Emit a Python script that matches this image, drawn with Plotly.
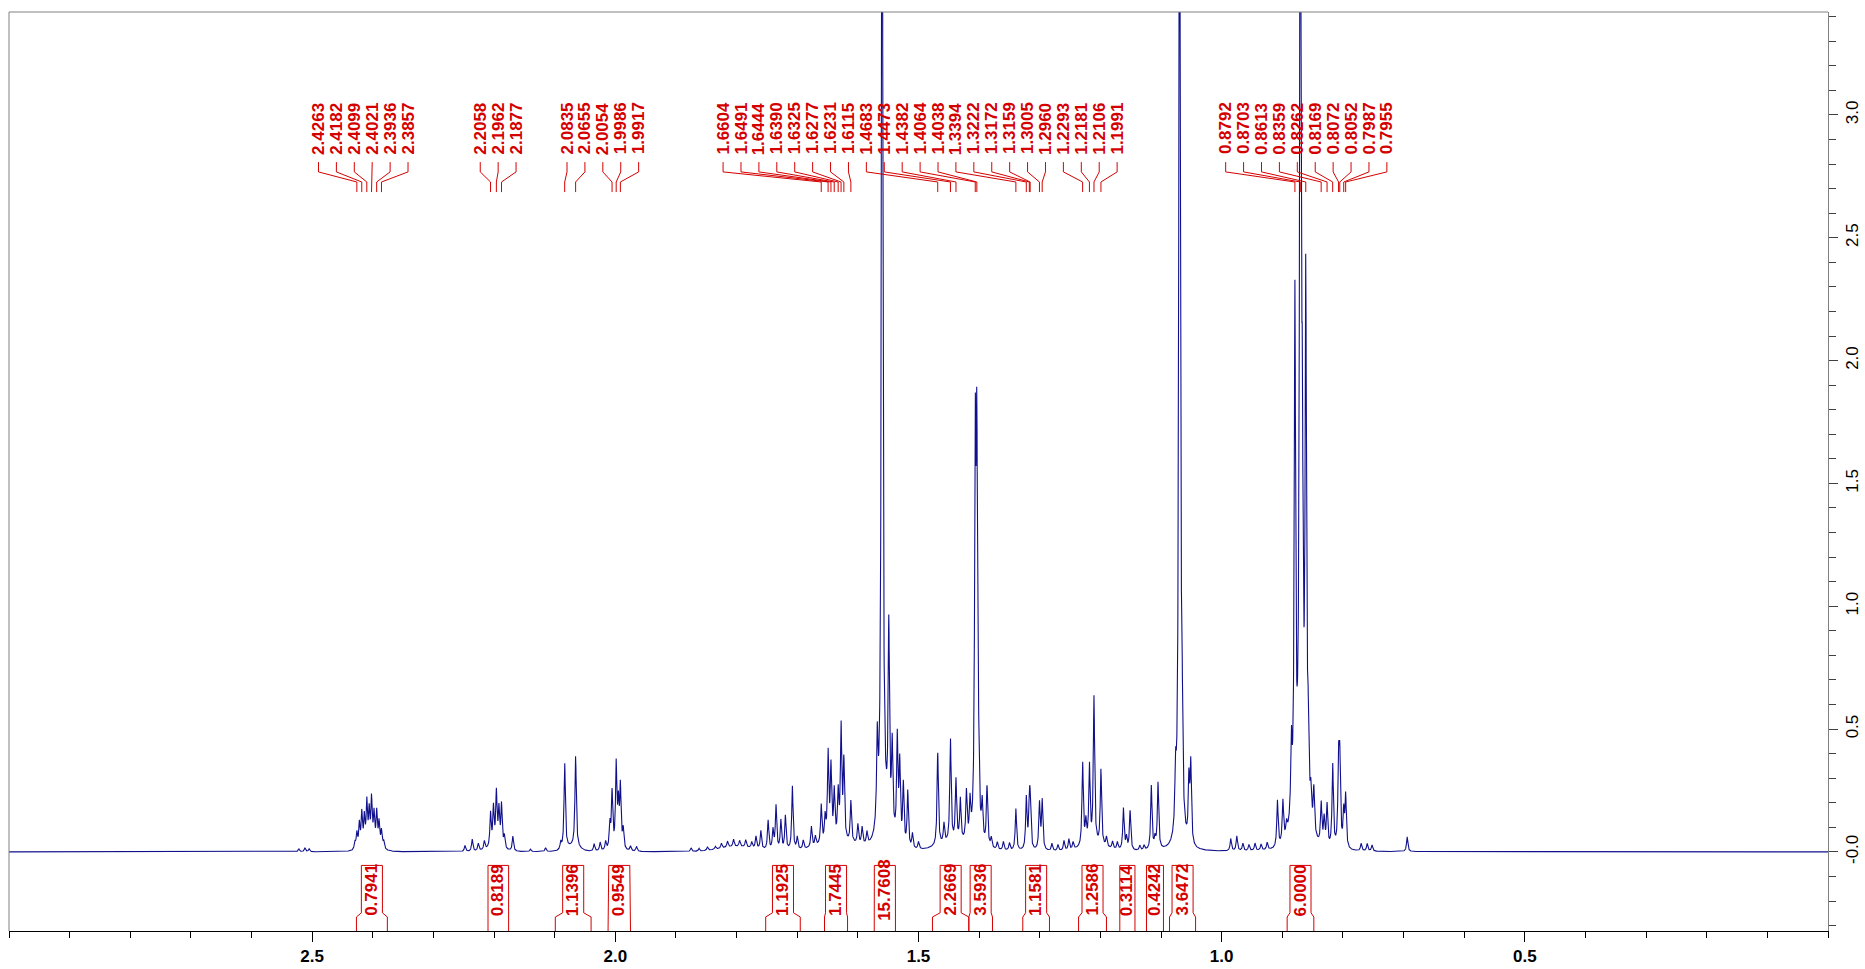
import numpy as np
import plotly.graph_objects as go

# ---------------- data ----------------
# spectrum lines: chemical shift (ppm) and height (rel)
peak_ppm = [
    2.522, 2.512, 2.505,
    2.4295, 2.4263, 2.4222, 2.4182, 2.4140, 2.4099, 2.4060, 2.4021, 2.3980, 2.3936, 2.3897, 2.3857, 2.3820,
    2.248, 2.236, 2.226, 2.216, 2.2058, 2.2010, 2.1962, 2.1920, 2.1877, 2.1830, 2.169,
    2.140, 2.115,
    2.090, 2.0835, 2.0655, 2.035, 2.025, 2.016,
    2.0090, 2.0054, 1.9986, 1.9950, 1.9917, 1.9870, 1.975, 1.965,
    1.875, 1.862, 1.848, 1.835,
    1.825, 1.815, 1.805, 1.795, 1.785, 1.775,
    1.768, 1.760, 1.748, 1.740, 1.735, 1.727, 1.7195, 1.708, 1.700, 1.690, 1.6766, 1.670,
    1.6604, 1.6540, 1.6491, 1.6444, 1.6390, 1.6325, 1.6277, 1.6231, 1.6115, 1.600, 1.593, 1.585,
    1.568, 1.5600, 1.5490, 1.5434, 1.5350, 1.5310, 1.5250, 1.5177, 1.510, 1.500,
    1.4683, 1.4580, 1.4473, 1.4382, 1.4310, 1.4210, 1.4150,
    1.4064, 1.4038, 1.4010, 1.3950, 1.3870, 1.3800,
    1.370, 1.360, 1.350,
    1.3394, 1.3222, 1.3172, 1.3159, 1.3005, 1.2960,
    1.280, 1.270, 1.260, 1.252, 1.245,
    1.2293, 1.2240, 1.2181, 1.2106, 1.1991,
    1.190, 1.180, 1.172,
    1.162, 1.157, 1.151, 1.135, 1.128,
    1.116, 1.110, 1.105,
    1.076, 1.0695, 1.0655, 1.054, 1.051,
    0.985, 0.975, 0.965, 0.955, 0.945, 0.935, 0.925,
    0.908, 0.899, 0.893,
    0.8850, 0.8792, 0.8703, 0.8670, 0.8613, 0.8575, 0.8530, 0.8480,
    0.8359, 0.8310, 0.8262, 0.8169, 0.8072, 0.8052, 0.7987, 0.7955,
    0.770, 0.760, 0.752, 0.694,
]
peak_height = [
    0.012, 0.016, 0.012,
    0.03, 0.065, 0.10, 0.14, 0.12, 0.18, 0.14, 0.19, 0.13, 0.14, 0.10, 0.07, 0.03,
    0.025, 0.05, 0.03, 0.035, 0.14, 0.16, 0.22, 0.15, 0.175, 0.05, 0.06,
    0.01, 0.015,
    0.03, 0.35, 0.37, 0.03, 0.035, 0.035,
    0.10, 0.23, 0.34, 0.17, 0.25, 0.08, 0.02, 0.02,
    0.015, 0.012, 0.015, 0.012,
    0.02, 0.025, 0.03, 0.025, 0.03, 0.025,
    0.05, 0.075, 0.12, 0.08, 0.18, 0.12, 0.14, 0.26, 0.05, 0.035, 0.085, 0.04,
    0.16, 0.10, 0.36, 0.30, 0.20, 0.19, 0.46, 0.32, 0.17, 0.08, 0.07, 0.05,
    0.35, 5.0, 0.80, 0.35, 0.42, 0.32, 0.25, 0.23, 0.06, 0.03,
    0.38, 0.08, 0.42, 0.25, 0.17, 0.20, 0.15,
    1.52, 1.52, 0.25, 0.15, 0.24, 0.04,
    0.03, 0.035, 0.03,
    0.17, 0.21, 0.16, 0.16, 0.19, 0.20,
    0.03, 0.025, 0.04, 0.045, 0.03,
    0.34, 0.09, 0.32, 0.60, 0.31,
    0.04, 0.03, 0.03,
    0.17, 0.05, 0.16, 0.02, 0.02,
    0.26, 0.04, 0.27,
    0.22, 5.0, 0.45, 0.25, 0.32,
    0.05, 0.06, 0.03, 0.025, 0.03, 0.025, 0.03,
    0.19, 0.17, 0.05,
    0.30, 2.10, 5.0, 1.20, 2.15, 0.30, 0.12, 0.18,
    0.17, 0.11, 0.17, 0.34, 0.33, 0.33, 0.14, 0.21,
    0.03, 0.03, 0.025, 0.06,
]
# broad baseline humps under the multiplets: centre, height, width (ppm)
hump_ppm = [1.80, 1.63, 1.555, 1.44, 1.21, 0.87, 2.40, 2.20, 2.07]
hump_height = [0.02, 0.03, 0.08, 0.03, 0.02, 0.10, 0.01, 0.01, 0.02]
hump_width = [0.04, 0.05, 0.015, 0.04, 0.03, 0.02, 0.02, 0.02, 0.015]

# peak-pick labels (ppm), grouped as printed
label_groups = [
    [2.4263, 2.4182, 2.4099, 2.4021, 2.3936, 2.3857],
    [2.2058, 2.1962, 2.1877],
    [2.0835, 2.0655, 2.0054, 1.9986, 1.9917],
    [1.6604, 1.6491, 1.6444, 1.6390, 1.6325, 1.6277, 1.6231, 1.6115, 1.4683, 1.4473,
     1.4382, 1.4064, 1.4038, 1.3394, 1.3222, 1.3172, 1.3159, 1.3005, 1.2960, 1.2293,
     1.2181, 1.2106, 1.1991],
    [0.8792, 0.8703, 0.8613, 0.8359, 0.8262, 0.8169, 0.8072, 0.8052, 0.7987, 0.7955],
]

# integrals: value, start and end (ppm)
integral_value = [0.7941, 0.8189, 1.1396, 0.9549, 1.1925, 1.7445, 15.7608, 2.2669,
                  3.5936, 1.1581, 1.2586, 0.3114, 0.4242, 3.6472, 6.0000]
integral_start = [2.427, 2.210, 2.099, 2.012, 1.752, 1.655, 1.573, 1.477,
                  1.417, 1.328, 1.236, 1.168, 1.124, 1.086, 0.892]
integral_end = [2.376, 2.176, 2.040, 1.975, 1.695, 1.617, 1.538, 1.417,
                1.378, 1.284, 1.190, 1.143, 1.096, 1.043, 0.848]

x_ticks = [2.5, 2.0, 1.5, 1.0, 0.5]
y_ticks = [0.0, 0.5, 1.0, 1.5, 2.0, 2.5, 3.0]
y_ticktext = ["-0.0", "0.5", "1.0", "1.5", "2.0", "2.5", "3.0"]

# ---------------- layout constants ----------------
RED = "#D40000"
BLUE = "#10108C"
HWHM = 0.0013
label_start = [2.4896, 2.2228, 2.0797, 1.8223, 0.9934]
label_step = 0.02954
LBL_Y = 2.945
LEAD = [2.808, 2.768, 2.727, 2.686]
BOX_W = 0.0347
BOX_TOP, FLARE_A, FLARE_B, BOX_BOT = -0.055, -0.248, -0.265, -0.322
INT_TXT_Y = -0.155

# ---------------- spectrum ----------------
xs = np.linspace(3.0, -0.02, 15101)
spec = np.zeros_like(xs)
for p, h in zip(peak_ppm, peak_height):
    spec += h * HWHM**2 / ((xs - p) ** 2 + HWHM**2)
for p, h, w in zip(hump_ppm, hump_height, hump_width):
    spec += h * np.exp(-((xs - p) / w) ** 2)

fig = go.Figure()
fig.add_trace(go.Scatter(x=xs, y=spec, mode="lines",
                         line=dict(color=BLUE, width=1.1), hoverinfo="skip"))

# leader lines
lx, ly = [], []
annotations = []
lab_font = dict(family="Liberation Sans, Arial", size=17, color=RED, weight="bold")
for g, grp in enumerate(label_groups):
    for i, v in enumerate(grp):
        xl = label_start[g] - i * label_step
        lx += [xl, xl, v, v, None]
        ly += [LEAD[0], LEAD[1], LEAD[2], LEAD[3], None]
        annotations.append(dict(x=xl, y=LBL_Y, xref="x", yref="y", text=f"{v:.4f}",
                                textangle=-90, showarrow=False, font=lab_font,
                                xanchor="center", yanchor="middle"))
fig.add_trace(go.Scatter(x=lx, y=ly, mode="lines", line=dict(color=RED, width=1),
                         hoverinfo="skip", cliponaxis=False))

# integral brackets
ix, iy = [], []
for v, a, b in zip(integral_value, integral_start, integral_end):
    c = (a + b) / 2
    hw = min(BOX_W, abs(a - b)) / 2
    bl, br = c + hw, c - hw
    ix += [a, a, bl, bl, br, br, b, b, None]
    iy += [BOX_BOT, FLARE_B, FLARE_A, BOX_TOP, BOX_TOP, FLARE_A, FLARE_B, BOX_BOT, None]
    annotations.append(dict(x=c, y=INT_TXT_Y, xref="x", yref="y", text=f"{v:.4f}",
                            textangle=-90, showarrow=False, font=lab_font,
                            xanchor="center", yanchor="middle"))
fig.add_trace(go.Scatter(x=ix, y=iy, mode="lines", line=dict(color=RED, width=1),
                         hoverinfo="skip", cliponaxis=False))

annotations.append(dict(x=0.0512, y=-0.43, xref="x", yref="y", text="[ppm]", showarrow=False,
                        font=dict(family="Liberation Sans, Arial", size=17, color="black",
                                  weight="bold"),
                        xanchor="center", yanchor="middle"))
annotations.append(dict(x=-0.038, y=3.33, xref="x", yref="y", text="[rel]", showarrow=False,
                        textangle=-90,
                        font=dict(family="Liberation Sans Narrow, Liberation Sans, Arial",
                                  size=17, color="black"),
                        xanchor="center", yanchor="middle"))

fig.update_layout(
    width=1865, height=969,
    margin=dict(l=9, r=37, t=12, b=38, autoexpand=False),
    paper_bgcolor="white", plot_bgcolor="white",
    showlegend=False,
    annotations=annotations,
    shapes=[
        dict(type="line", xref="paper", yref="paper", x0=0, x1=1, y0=1, y1=1,
             line=dict(color="#808080", width=1)),
        dict(type="line", xref="paper", yref="paper", x0=0, x1=0, y0=0, y1=1,
             line=dict(color="#808080", width=1)),
    ],
    xaxis=dict(range=[3.0, 0.0], tickvals=x_ticks, ticktext=[f"{t:.1f}" for t in x_ticks],
               ticks="outside", ticklen=10, tickcolor="black", tickwidth=1,
               automargin=False,
               minor=dict(dtick=0.1, tick0=0, ticks="outside", ticklen=6, tickcolor="black"),
               showline=True, linecolor="black", linewidth=1,
               showgrid=False, zeroline=False,
               tickfont=dict(family="Liberation Sans, Arial", size=17, color="black",
                             weight="bold")),
    yaxis=dict(range=[-0.322, 3.419], side="right", tickvals=y_ticks, ticktext=y_ticktext,
               tickangle=-90, ticks="outside", ticklen=9, tickcolor="#404040",
               automargin=False,
               minor=dict(dtick=0.1, tick0=0, ticks="outside", ticklen=7, tickcolor="#404040"),
               showline=True, linecolor="#808080", linewidth=1,
               showgrid=False, zeroline=False,
               tickfont=dict(family="Liberation Sans Narrow, Liberation Sans, Arial",
                             size=17, color="black")),
)

fig.write_html("out.html")
